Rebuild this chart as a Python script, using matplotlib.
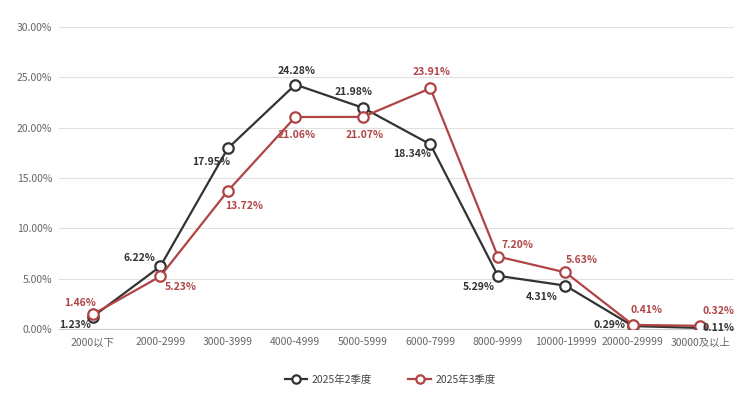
import matplotlib
matplotlib.use("Agg")
import matplotlib.pyplot as plt
from matplotlib.ticker import FuncFormatter

plt.rcParams['font.family'] = ['Noto Sans CJK SC', 'DejaVu Sans']

categories = ["2000以下", "2000-2999", "3000-3999", "4000-4999", "5000-5999",
              "6000-7999", "8000-9999", "10000-19999", "20000-29999", "30000及以上"]
series_names = ["2025年2季度", "2025年3季度"]
q2_values = [1.23, 6.22, 17.95, 24.28, 21.98, 18.34, 5.29, 4.31, 0.29, 0.11]
q3_values = [1.46, 5.23, 13.72, 21.06, 21.07, 23.91, 7.20, 5.63, 0.41, 0.32]

colors = ["#333333", "#b04444"]
# label offsets in points (style only)
q2_offsets = [(-13, -6), (-15, 6), (-12, -10), (1, 10), (-7, 11), (-13, -7), (-14, -8), (-17, -8), (-17, 1), (13, 0)]
q3_offsets = [(-9, 8), (15, -8), (12, -11), (1, -13), (1, -13), (1, 12), (14, 8), (12, 9), (10, 11), (13, 11)]

fig = plt.figure(figsize=(7.5, 3.95), dpi=100)
ax = fig.add_axes([0.0787, 0.167, 0.9003, 0.7646])

x = list(range(len(categories)))
for vals, col, name, offs in [(q2_values, colors[0], series_names[0], q2_offsets),
                              (q3_values, colors[1], series_names[1], q3_offsets)]:
    ax.plot(x, vals, color=col, lw=1.6, marker='o', markersize=7.5,
            markerfacecolor='white', markeredgecolor=col, markeredgewidth=1.6,
            label=name, zorder=3)
    for xi, v, off in zip(x, vals, offs):
        ax.annotate(f"{v:.2f}%", (xi, v), xytext=off, textcoords='offset points',
                    ha='center', va='center', fontsize=7.5, fontweight='bold',
                    color=col, zorder=4)

ax.set_xlim(-0.5, len(categories) - 0.5)
ax.set_ylim(0, 30)
ax.set_yticks([0, 5, 10, 15, 20, 25, 30])
ax.yaxis.set_major_formatter(FuncFormatter(lambda v, p: f"{v:.2f}%"))
ax.set_xticks(x)
ax.set_xticklabels(categories)
ax.tick_params(axis='both', length=0, labelsize=7.5, labelcolor='#666666')
ax.tick_params(axis='y', pad=5)
ax.tick_params(axis='x', pad=6)
ax.grid(axis='y', color='#e0e0e0', lw=0.8)
ax.set_axisbelow(True)
for s in ['top', 'right', 'left']:
    ax.spines[s].set_visible(False)
ax.spines['bottom'].set_color('#cccccc')
ax.spines['bottom'].set_linewidth(0.8)

leg = fig.legend(loc='center', bbox_to_anchor=(0.52, 0.038), ncol=2, frameon=False,
                 fontsize=7.5, handlelength=2.2, columnspacing=3.5, handletextpad=0.4,
                 markerscale=0.8)
for t in leg.get_texts():
    t.set_color('#444444')

fig.savefig("out.png", dpi=100)
